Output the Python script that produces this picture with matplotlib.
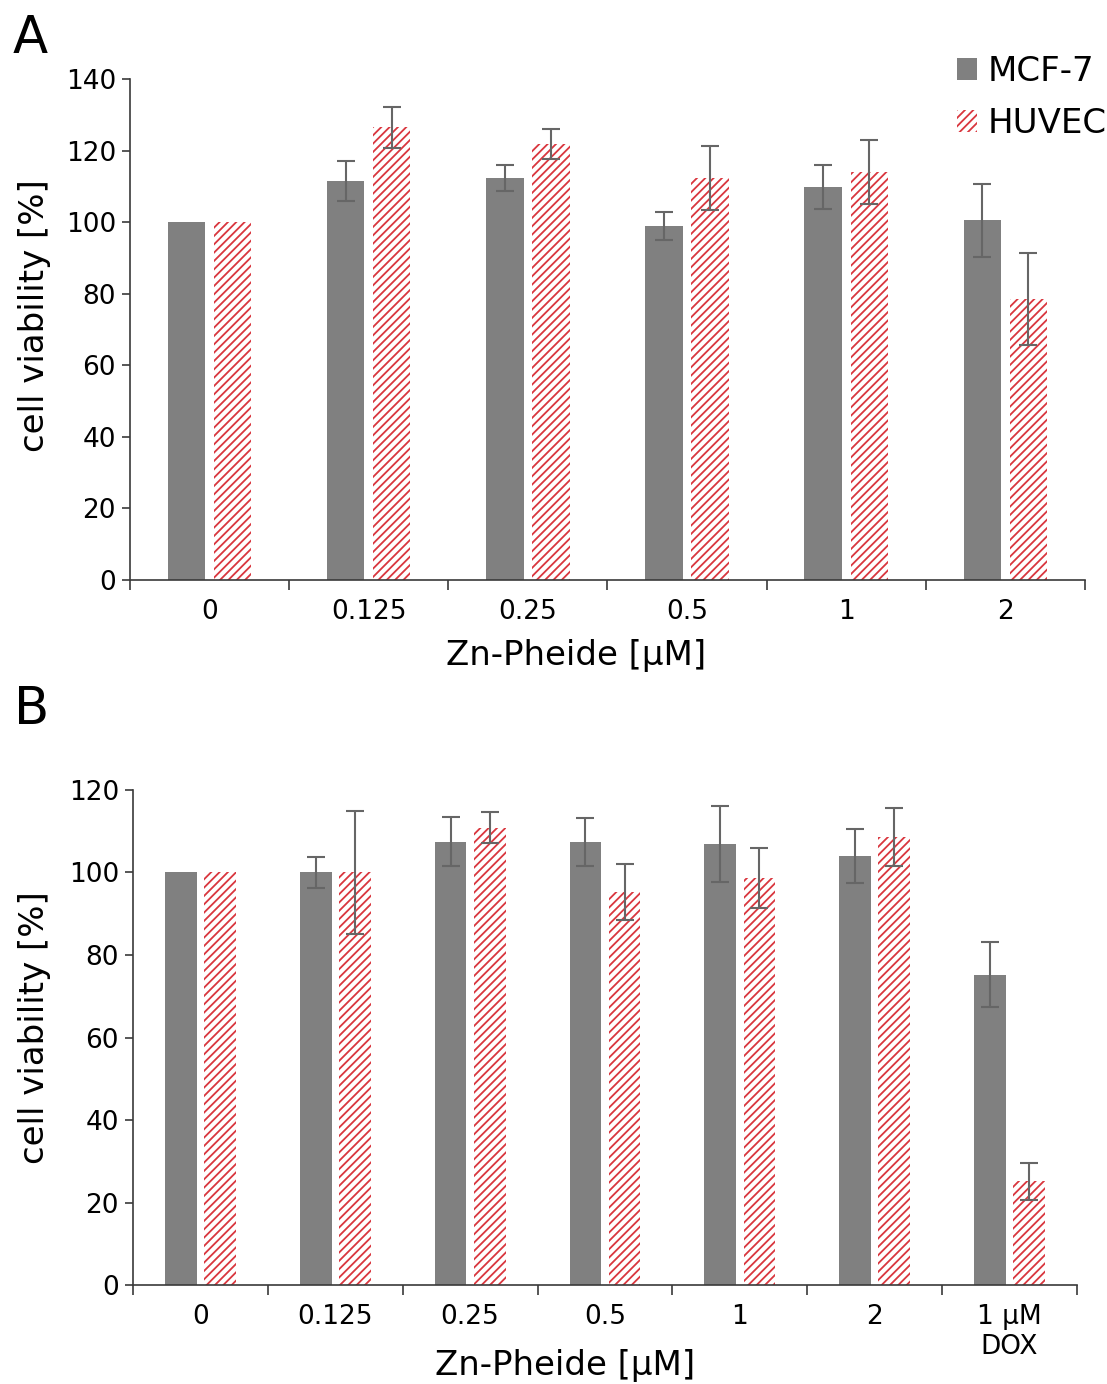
import numpy as np
import matplotlib
matplotlib.use("Agg")
import matplotlib.pyplot as plt
from matplotlib.patches import Patch

plt.rcParams['font.family'] = ['DejaVu Sans']
plt.rcParams['hatch.linewidth'] = 1.3

# Panel A: Zn-Pheide concentrations
cats_a = ["0", "0.125", "0.25", "0.5", "1", "2"]
mcf7_a = [100, 111.6, 112.3, 98.9, 109.8, 100.6]
mcf7_a_err = [0, 5.6, 3.7, 3.9, 6.1, 10.2]
huvec_a = [100, 126.5, 121.8, 112.3, 114.0, 78.5]
huvec_a_err = [0, 5.7, 4.2, 9.0, 9.0, 12.8]

# Panel B: Zn-Pheide concentrations plus doxorubicin control
cats_b = ["0", "0.125", "0.25", "0.5", "1", "2", "1 μM\nDOX"]
mcf7_b = [100, 100, 107.5, 107.4, 106.9, 104.0, 75.2]
mcf7_b_err = [0, 3.8, 5.9, 5.8, 9.2, 6.5, 7.9]
huvec_b = [100, 100, 110.9, 95.3, 98.7, 108.6, 25.2]
huvec_b_err = [0, 15.0, 3.7, 6.8, 7.2, 7.0, 4.5]

GRAY = "#808080"
RED = "#d9363e"
ERR = "#666666"
AXC = "#3a3a3a"
HATCH = "////"

W = 0.235
OFF = 0.145

fig = plt.figure(figsize=(11.07, 13.84), dpi=100)


def panel(rect, cats, m, me, h, he, ymax, letter, letter_pos, xlab_pos, ylab_pos):
    ax = fig.add_axes(rect)
    x = np.arange(len(cats))
    ax.bar(x - OFF, m, W, color=GRAY, edgecolor="none", zorder=2)
    ax.bar(x + OFF, h, W, color="white", edgecolor=RED, hatch=HATCH,
           linewidth=0, zorder=2)
    ek = dict(fmt="none", ecolor=ERR, elinewidth=1.5, capsize=6.5,
              capthick=1.5, zorder=3)
    xm = [xi - OFF for xi, e in zip(x, me) if e > 0]
    ym = [v for v, e in zip(m, me) if e > 0]
    em = [e for e in me if e > 0]
    xh = [xi + OFF for xi, e in zip(x, he) if e > 0]
    yh = [v for v, e in zip(h, he) if e > 0]
    eh = [e for e in he if e > 0]
    ax.errorbar(xm, ym, yerr=em, **ek)
    ax.errorbar(xh, yh, yerr=eh, **ek)

    ax.set_xlim(-0.5, len(cats) - 0.5)
    ax.set_ylim(0, ymax)
    ax.set_yticks(np.arange(0, ymax + 1, 20))
    ax.set_xticks(x)
    ax.set_xticklabels(cats)
    ax.set_xticks(np.arange(-0.5, len(cats), 1.0), minor=True)
    ax.tick_params(axis="x", which="major", length=0, labelsize=19, pad=14)
    ax.tick_params(axis="x", which="minor", length=7, width=1.2, color=AXC)
    ax.tick_params(axis="y", length=6, width=1.2, color=AXC, labelsize=19, pad=4)
    for s in ("top", "right"):
        ax.spines[s].set_visible(False)
    for s in ("left", "bottom"):
        ax.spines[s].set_color(AXC)
        ax.spines[s].set_linewidth(1.2)
    ax.set_ylabel("cell viability [%]", fontsize=24.5, va="center")
    ax.yaxis.set_label_coords(*ylab_pos)
    ax.set_xlabel("Zn-Pheide [μM]", fontsize=24.5, va="center")
    ax.xaxis.set_label_coords(*xlab_pos)
    fig.text(letter_pos[0], letter_pos[1], letter, fontsize=37,
             ha="left", va="top")
    return ax


axA = panel([0.1174, 0.5809, 0.8627, 0.3620], cats_a, mcf7_a, mcf7_a_err,
            huvec_a, huvec_a_err, 140, "A", (0.011, 0.990),
            (0.467, -0.150), (-0.100, 0.527))
axB = panel([0.1201, 0.0715, 0.8528, 0.3577], cats_b, mcf7_b, mcf7_b_err,
            huvec_b, huvec_b_err, 120, "B", (0.013, 0.505),
            (0.4576, -0.162), (-0.104, 0.519))

handles = [Patch(facecolor=GRAY, edgecolor="none", label="MCF-7"),
           Patch(facecolor="white", edgecolor=RED, hatch=HATCH,
                 linewidth=0, label="HUVEC")]
fig.legend(handles=handles, loc="upper right", bbox_to_anchor=(1.018, 0.975),
           frameon=False, fontsize=24.5, handlelength=0.6, handleheight=0.6,
           handletextpad=0.3, labelspacing=0.55, borderpad=0.1)

fig.savefig("out.png", dpi=100)
